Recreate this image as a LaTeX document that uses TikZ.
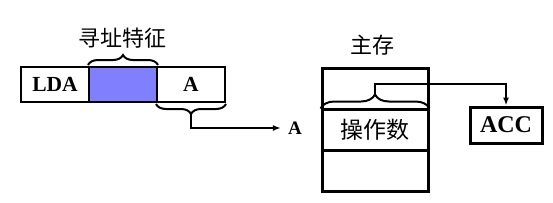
\documentclass[tikz,border=0pt]{standalone}
\usepackage{fontspec}
\setmainfont{Liberation Serif}
\newfontfamily\cjk{Noto Sans CJK SC}
\usepackage{xcolor}
\usetikzlibrary{positioning, arrows.meta, calc, decorations.pathreplacing}
\definecolor{modeblue}{RGB}{128,128,255}

\begin{document}
\begin{tikzpicture}[x=1pt, y=-1pt,
  field/.style={draw, line width=2pt, minimum width=68pt, minimum height=35pt,
                inner sep=0pt, font=\fontsize{21.5}{21.5}\selectfont\bfseries},
  memcell/.style={draw, line width=3pt, minimum width=106pt, minimum height=41pt,
                  inner sep=0pt, font=\fontsize{23}{23}\selectfont\cjk},
  accbox/.style={draw, line width=3pt, minimum width=72pt, minimum height=36pt,
                 inner sep=0pt, font=\fontsize{24}{24}\selectfont\bfseries},
  cnlabel/.style={font=\fontsize{22}{22}\selectfont\cjk, inner sep=0pt},
  brace/.style={decorate, line width=2pt,
                decoration={brace, amplitude=10pt, raise=1pt}},
  link/.style={line width=2pt, -{Latex[length=8pt, width=6pt]}}
]
  \useasboundingbox (0,0) rectangle (553,202);
  % instruction word
  \node[field] (lda)  at (55,84.5)  {LDA};
  \node[field, fill=modeblue] (mode) at (123,84.5) {};
  \node[field] (addr) at (191,84.5) {A};
  \draw[brace] (mode.north west) -- (mode.north east);
  \node[cnlabel] (modelbl) at (122,38) {寻址特征};
  \draw[brace] (addr.south east) -- (addr.south west);
  \coordinate (addrtip) at ($(addr.south)+(0pt,-11pt)$);
  \node[font=\fontsize{19}{19}\selectfont\bfseries, inner sep=0pt] (atext) at (295,128) {A};
  \draw[link, shorten >=7pt] (addrtip) |- (atext.west);
  % main memory
  \node[cnlabel] (memlbl) at (372,45) {主存};
  \node[memcell] (m1) at (375,88.5)  {};
  \node[memcell] (m2) at (375,129.5) {操作数};
  \node[memcell] (m3) at (375,170.5) {};
  \draw[brace, decoration={amplitude=14pt, raise=2pt}] (m1.south west) -- (m1.south east);
  \coordinate (memtip) at ($(m1.south)+(0pt,16pt)$);
  \node[accbox] (acc) at (506,125) {ACC};
  \draw[link] (memtip) -- ++(0pt,11pt) -| (acc.north);
\end{tikzpicture}
\end{document}
